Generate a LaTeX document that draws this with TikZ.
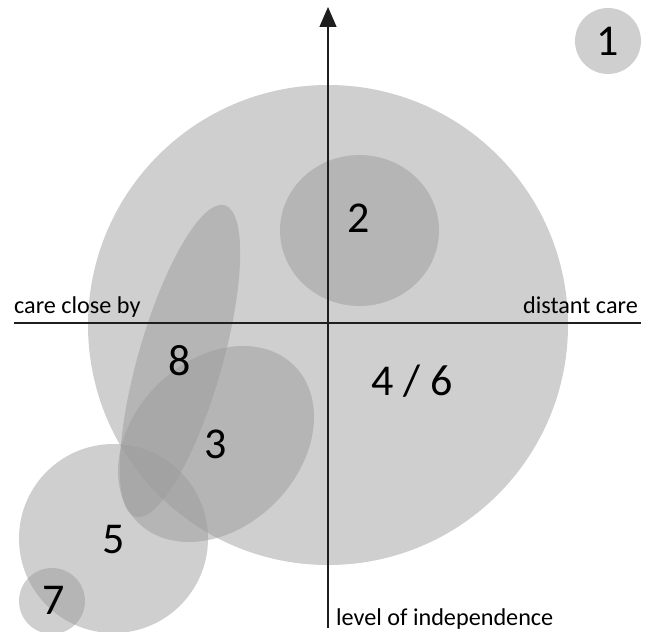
\documentclass[tikz,border=0pt]{standalone}
\usepackage{fontspec}
\setmainfont{Carlito}
\usetikzlibrary{arrows.meta}
\begin{document}
\begin{tikzpicture}[x=1pt,y=-1pt,
  blob/.style={fill={rgb,255:red,154;green,154;blue,154},fill opacity=0.48},
  num/.style={font=\fontsize{44}{44}\selectfont, inner sep=0pt, anchor=center},
  lab/.style={font=\fontsize{24.2}{28}\selectfont, inner sep=0pt},
  axis/.style={draw={rgb,255:red,30;green,30;blue,30}, line width=1.4pt}]
\useasboundingbox (0,0) rectangle (652,631);
% regions
\fill[blob] (328,325) circle[radius=240];
\fill[blob] (608,41) circle[radius=33];
\fill[blob] (359.5,230.5) ellipse[x radius=79.5, y radius=75.5];
\fill[blob, rotate around={74:(180,361)}] (180,361) ellipse[x radius=162, y radius=42];
\fill[blob, rotate around={45:(216,444)}] (216,444) ellipse[x radius=110.7, y radius=83.4];
\fill[blob] (113.5,538.5) circle[radius=94.5];
\fill[blob] (52,601) circle[radius=33];
% axes
\coordinate (ybot) at (328,628);
\coordinate (ytop) at (328,7);
\coordinate (xl) at (14,323);
\coordinate (xr) at (641,323);
\draw[axis] (xl) -- (xr);
\draw[axis, -{Triangle[width=17pt,length=20pt]}] (ybot) -- (ytop);
% labels
\node[lab, anchor=base west] (close) at (14,313) {care close by};
\node[lab, anchor=base east] (distant) at (638,313) {distant care};
\node[lab, anchor=base west] (indep) at (336,625) {level of independence};
% numbers
\node[num] (n1) at (608,41) {1};
\node[num] (n2) at (358.5,218) {2};
\node[num] (n8) at (180,361) {8};
\node[num] (n3) at (216,444) {3};
\node[num] (n46) at (412,381) {4 / 6};
\node[num] (n5) at (114,540) {5};
\node[num] (n7) at (54,600) {7};
\end{tikzpicture}
\end{document}
